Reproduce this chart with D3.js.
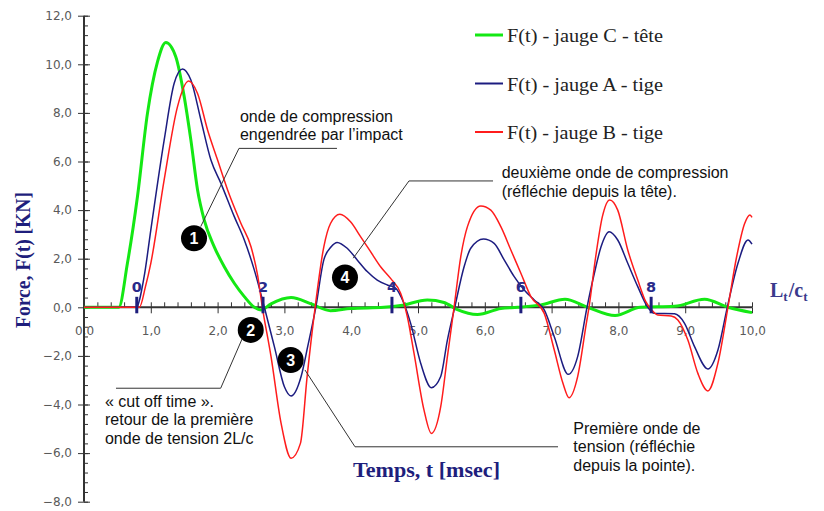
<!DOCTYPE html>
<html>
<head>
<meta charset="utf-8">
<script src="https://cdn.jsdelivr.net/npm/d3@7"></script>
<style>
  body { margin: 0; background: #fff; }
  svg { display: block; }
</style>
</head>
<body>
<svg id="chart" width="824" height="511"></svg>
<script>

////////////////////////// DATA //////////////////////////

// jauge C - tête (green)
const tC = [0, 0.52, 0.65, 0.80, 0.95, 1.10, 1.225, 1.375, 1.5, 1.6, 1.7, 1.8, 1.95, 2.1, 2.25, 2.4, 2.55, 2.65, 2.8, 3.1, 3.4, 3.69, 3.99, 4.49, 4.74, 5.14, 5.39, 5.59, 5.89, 6.24, 6.49, 6.84, 7.2, 7.54, 7.95, 8.33, 8.84, 9.29, 9.64, 10.0]
const fC = [0, 0, 1.81, 4.55, 7.98, 10.1, 10.9, 10.3, 8.67, 6.88, 4.83, 3.59, 2.49, 1.67, 0.99, 0.44, 0.0, -0.11, 0.14, 0.4, 0.14, -0.14, -0.05, 0, 0.07, 0.3, 0.2, -0.1, -0.3, -0.05, 0, 0.1, 0.33, 0, -0.34, 0, 0.04, 0.33, 0, -0.22]

// jauge A - tige (navy)
const tA = [0, 0.78, 0.9, 1.0, 1.2, 1.35, 1.475, 1.6, 1.75, 1.9, 2.05, 2.25, 2.4, 2.55, 2.7, 2.85, 3.0, 3.1, 3.25, 3.35, 3.47, 3.59, 3.70, 3.79, 3.94, 4.09, 4.24, 4.39, 4.54, 4.66, 4.79, 4.89, 5.04, 5.20, 5.34, 5.44, 5.55, 5.69, 5.79, 5.98, 6.14, 6.29, 6.44, 6.59, 6.74, 6.89, 7.04, 7.25, 7.39, 7.53, 7.64, 7.74, 7.86, 7.99, 8.14, 8.29, 8.44, 8.54, 8.84, 8.99, 9.14, 9.34, 9.49, 9.63, 9.79, 9.94, 10.0]
const fA = [0, 0, 1.26, 3.18, 6.88, 9.22, 9.81, 9.35, 7.71, 6.06, 5.10, 3.73, 2.77, 1.53, 0, -1.62, -3.27, -3.65, -2.85, -1.6, 0, 1.95, 2.49, 2.67, 2.43, 1.95, 1.47, 1.12, 0.92, 0.8, 0.16, -0.66, -2.3, -3.31, -2.85, -1.35, 0, 1.67, 2.43, 2.81, 2.63, 1.95, 1.26, 0.71, 0.3, -0.11, -1.21, -2.76, -2.03, 0, 1.4, 2.49, 3.11, 2.77, 1.81, 0.85, 0, -0.25, -0.27, -0.66, -1.62, -2.54, -1.76, 0, 1.81, 2.77, 2.6]

// jauge B - tige (red)
const tB = [0, 0.83, 0.92, 1.0, 1.2, 1.4, 1.565, 1.7, 1.85, 2.0, 2.15, 2.35, 2.5, 2.6, 2.67, 2.8, 2.95, 3.1, 3.24, 3.34, 3.46, 3.59, 3.69, 3.83, 3.99, 4.14, 4.29, 4.44, 4.59, 4.74, 4.84, 4.94, 5.09, 5.20, 5.34, 5.44, 5.54, 5.64, 5.74, 5.94, 6.09, 6.24, 6.39, 6.54, 6.69, 6.89, 7.04, 7.17, 7.26, 7.39, 7.52, 7.56, 7.66, 7.76, 7.87, 7.99, 8.14, 8.29, 8.41, 8.49, 8.59, 8.79, 8.89, 9.04, 9.19, 9.34, 9.49, 9.64, 9.77, 9.89, 9.97, 10.0]
const fB = [0, 0, 0.85, 1.81, 5.24, 8.26, 9.31, 8.80, 7.3, 6.06, 4.83, 3.45, 2.49, 1.3, 0, -2.03, -4.77, -6.21, -5.6, -2.85, 0, 2.49, 3.45, 3.83, 3.52, 2.91, 2.29, 1.67, 1.19, 0.58, -0.38, -1.89, -4.23, -5.19, -4.09, -2.03, 0, 2.08, 3.32, 4.17, 4.0, 3.32, 2.36, 1.4, 0.44, -0.25, -1.76, -3.13, -3.72, -2.85, -0.66, 0, 2.08, 3.73, 4.42, 4.0, 2.36, 1.12, 0.23, -0.08, -0.32, -0.36, -0.52, -1.35, -2.72, -3.44, -2.3, 0, 2.08, 3.45, 3.8, 3.7]

// axes
const yTicks = d3.range(-8, 12.01, 2)
const yMinor = d3.range(-8, 12.01, 0.4)
const xTicks = d3.range(0, 10.01, 1)
const xMinor = d3.range(0, 10.01, 0.2)

// L/c wave markers
const waveT = [0.79, 2.68, 4.61, 6.54, 8.49]
const waveLabels = ['0', '2', '4', '6', '8']

// legend
const legendLabels = ['F(t) - jauge C - tête', 'F(t) - jauge A - tige', 'F(t) - jauge B - tige']
const seriesColors = ['#14e814', '#1c1c80', '#ff1c1c']
const seriesWidths = [3, 1.5, 1.5]

// annotations (data units)
const noteNums = ['1', '2', '3', '4']
const noteCircles = [[1.647, 2.84], [2.496, -0.93], [3.094, -2.17], [3.907, 1.23]]
const noteLeaders = [
  [[1.747, 3.32], [2.32, 6.54], [3.787, 6.54]],
  [[2.37, -1.28], [2.046, -3.33], [0.479, -3.33]],
  [[3.308, -2.58], [4.057, -5.74], [7.096, -5.74]],
  [[4.03, 2.02], [4.865, 5.20], [6.123, 5.20]]
]
const noteAnchors = [[2.335, 7.64], [0.314, -4.10], [7.325, -5.21], [6.253, 5.32]]
const noteTexts = [
  ['onde de compression', 'engendrée par l\u2019impact'],
  ['\u00ab cut off time \u00bb.', 'retour de la première', 'onde de tension 2L/c'],
  ['Première onde de', 'tension (réfléchie', 'depuis la pointe).'],
  ['deuxième onde de compression', '(réfléchie depuis la tête).']
]

////////////////////////// SETUP //////////////////////////

const svg = d3.select('#chart')
const navy = '#1e1e7c'

const x = d3.scaleLinear().domain([0, 10]).range([84, 752])
const y = d3.scaleLinear().domain([-8, 12]).range([501.7, 15.7])
const fmt = (d) => d3.format('.1f')(d).replace('.', ',')

const styleAxis = (g) => {
  g.selectAll('text')
    .attr('font-family', 'DejaVu Sans, Verdana, sans-serif')
    .attr('font-size', 12)
    .attr('fill', '#5a5a5a')
  g.selectAll('line').attr('stroke', '#333')
}

////////////////////////// AXES //////////////////////////

// Y axis: labels + left half of major ticks
svg.append('g')
  .attr('transform', `translate(${x(0)},0)`)
  .call(d3.axisLeft(y).tickValues(yTicks).tickFormat(fmt).tickSize(6).tickSizeOuter(0).tickPadding(6))
  .call(styleAxis)
  .call(g => g.select('.domain').remove())

// right half of major ticks
svg.append('g')
  .attr('transform', `translate(${x(0)},0)`)
  .call(d3.axisRight(y).tickValues(yTicks).tickFormat('').tickSize(6).tickSizeOuter(0))
  .call(styleAxis)
  .call(g => g.select('.domain').remove())

// minor ticks
svg.append('g')
  .attr('transform', `translate(${x(0)},0)`)
  .call(d3.axisRight(y).tickValues(yMinor).tickFormat('').tickSize(4).tickSizeOuter(0))
  .call(styleAxis)
  .call(g => g.select('.domain').remove())

// X axis labels + lower part of major ticks
svg.append('g')
  .attr('transform', `translate(0,${y(0)})`)
  .call(d3.axisBottom(x).tickValues(xTicks).tickFormat(fmt).tickSize(6).tickSizeOuter(0).tickPadding(13))
  .call(styleAxis)
  .call(g => g.select('.domain').remove())

// upward ticks
svg.append('g')
  .attr('transform', `translate(0,${y(0)})`)
  .call(d3.axisTop(x).tickValues(xMinor).tickFormat('').tickSize(5).tickSizeOuter(0))
  .call(styleAxis)
  .call(g => g.select('.domain').remove())

// axis lines
svg.append('line')
  .attr('x1', x(0)).attr('x2', x(0))
  .attr('y1', y(12)).attr('y2', y(-8))
  .attr('stroke', '#333').attr('stroke-width', 2)

svg.append('line')
  .attr('x1', x(0)).attr('x2', x(10))
  .attr('y1', y(0)).attr('y2', y(0))
  .attr('stroke', '#333').attr('stroke-width', 2)

// axis titles
svg.append('text')
  .attr('transform', 'rotate(-90)')
  .attr('x', -260).attr('y', 30)
  .attr('text-anchor', 'middle')
  .attr('font-family', 'Liberation Serif, Times New Roman, serif')
  .attr('font-weight', 'bold')
  .attr('font-size', 20)
  .attr('fill', navy)
  .attr('textLength', 136)
  .attr('lengthAdjust', 'spacingAndGlyphs')
  .text('Force, F(t) [KN]')

svg.append('text')
  .attr('x', 353).attr('y', 476.5)
  .attr('font-family', 'Liberation Serif, Times New Roman, serif')
  .attr('font-weight', 'bold')
  .attr('font-size', 21)
  .attr('fill', navy)
  .attr('textLength', 147)
  .attr('lengthAdjust', 'spacingAndGlyphs')
  .text('Temps, t [msec]')

const lc = svg.append('text')
  .attr('x', 770).attr('y', 296.5)
  .attr('font-family', 'Liberation Serif, Times New Roman, serif')
  .attr('font-weight', 'bold')
  .attr('font-size', 20)
  .attr('fill', '#3a3a8c')
lc.append('tspan').text('L')
lc.append('tspan').attr('font-size', 13).attr('dy', 4).text('t')
lc.append('tspan').attr('dy', -4).attr('dx', 1).text('/c')
lc.append('tspan').attr('font-size', 13).attr('dy', 4).text('t')

////////////////////////// CURVES //////////////////////////

const line = d3.line()
  .x(d => x(d[0]))
  .y(d => y(d[1]))
  .curve(d3.curveMonotoneX)

const series = [d3.zip(tC, fC), d3.zip(tA, fA), d3.zip(tB, fB)]

svg.selectAll('.curve')
  .data(series)
  .enter()
  .append('path')
  .attr('class', 'curve')
  .attr('d', line)
  .attr('fill', 'none')
  .attr('stroke', (d, i) => seriesColors[i])
  .attr('stroke-width', (d, i) => seriesWidths[i])
  .attr('stroke-linejoin', 'round')

// wave markers 0,2,4,6,8
svg.selectAll('.wave-tick')
  .data(waveT)
  .enter()
  .append('line')
  .attr('x1', d => x(d)).attr('x2', d => x(d))
  .attr('y1', y(0) - 10.5).attr('y2', y(0) + 6)
  .attr('stroke', navy)
  .attr('stroke-width', 3)

svg.selectAll('.wave-label')
  .data(waveT)
  .enter()
  .append('text')
  .attr('x', d => x(d))
  .attr('y', y(0) - 15)
  .attr('text-anchor', 'middle')
  .attr('font-family', 'DejaVu Sans, Verdana, sans-serif')
  .attr('font-weight', 'bold')
  .attr('font-size', 14.5)
  .attr('fill', '#2a2a8a')
  .text((d, i) => waveLabels[i])

////////////////////////// LEGEND //////////////////////////

const legend = svg.selectAll('.legend')
  .data(legendLabels)
  .enter()
  .append('g')
  .attr('transform', (d, i) => `translate(475,${35 + i * 48.5})`)

legend.append('line')
  .attr('x1', 0).attr('x2', 28)
  .attr('stroke', (d, i) => seriesColors[i])
  .attr('stroke-width', (d, i) => seriesWidths[i] === 3 ? 3 : 2)

legend.append('text')
  .attr('x', 32).attr('y', 7)
  .attr('font-family', 'Liberation Serif, Times New Roman, serif')
  .attr('font-size', 18)
  .attr('fill', '#222')
  .attr('textLength', 156)
  .attr('lengthAdjust', 'spacingAndGlyphs')
  .text(d => d)

////////////////////////// ANNOTATIONS //////////////////////////

const leaderLine = d3.line().x(d => x(d[0])).y(d => y(d[1]))

svg.selectAll('.leader')
  .data(noteLeaders)
  .enter()
  .append('path')
  .attr('d', leaderLine)
  .attr('fill', 'none')
  .attr('stroke', '#333')
  .attr('stroke-width', 1)

const notes = svg.selectAll('.note')
  .data(noteTexts)
  .enter()
  .append('text')
  .attr('font-family', 'Liberation Sans, Arial, sans-serif')
  .attr('font-size', 16)
  .attr('fill', '#111')

notes.selectAll('tspan')
  .data((d, i) => d.map(s => ({ s, a: noteAnchors[i] })))
  .enter()
  .append('tspan')
  .attr('x', d => x(d.a[0]))
  .attr('y', (d, j) => y(d.a[1]) + j * 18.5)
  .text(d => d.s)

const badges = svg.selectAll('.badge')
  .data(noteCircles)
  .enter()
  .append('g')
  .attr('transform', d => `translate(${x(d[0])},${y(d[1])})`)

badges.append('circle')
  .attr('r', 13)
  .attr('fill', '#000')

badges.append('text')
  .attr('text-anchor', 'middle')
  .attr('dy', '0.36em')
  .attr('font-family', 'Liberation Sans, Arial, sans-serif')
  .attr('font-weight', 'bold')
  .attr('font-size', 16)
  .attr('fill', '#fff')
  .text((d, i) => noteNums[i])

</script>
</body>
</html>
